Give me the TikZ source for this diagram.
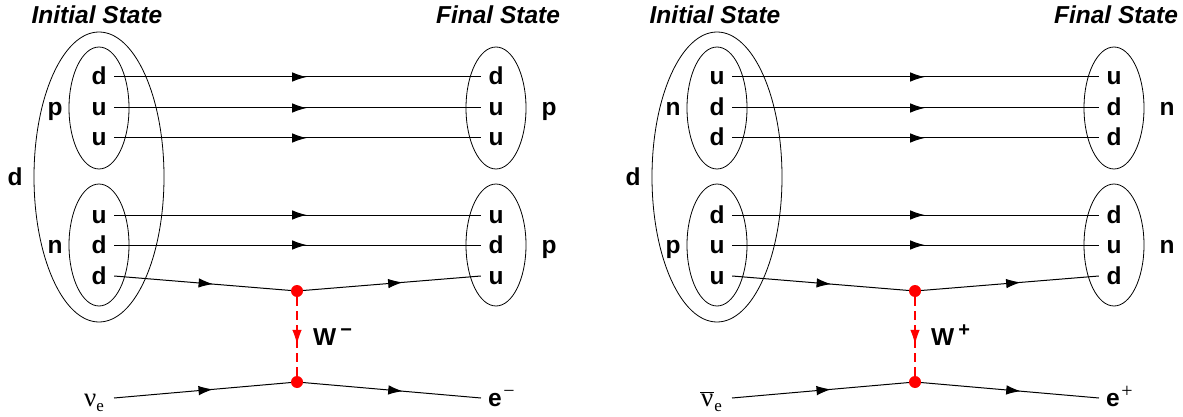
\documentclass[tikz,border=0pt]{standalone}
\usepackage{fontspec}
\setmainfont{Liberation Sans}
\newfontfamily\serifpart{Liberation Serif}
\usetikzlibrary{arrows.meta,decorations.markings,shapes.geometric,positioning}
\newcommand{\nuelectron}{{\serifpart\mdseries\fontsize{27}{27}\selectfont ν\raisebox{-5pt}{\fontsize{17}{17}\selectfont e}}}
\newcommand{\nubar}{{\serifpart\mdseries\fontsize{27}{27}\selectfont$\overline{\hbox{\kern1pt ν\kern1pt}}$\raisebox{-5pt}{\fontsize{17}{17}\selectfont e}}}
\newcommand{\wsup}[1]{W\,\raisebox{9pt}{\fontsize{20}{20}\selectfont #1}}
\newcommand{\esup}[1]{e\kern1.5pt\raisebox{9pt}{\serifpart\mdseries\fontsize{20}{20}\selectfont #1}}
\tikzset{
	particle/.style={inner sep=0pt,minimum width=30pt,text height=16pt,text depth=0pt,font=\fontsize{24.5}{24.5}\selectfont\bfseries},
	state/.style={inner sep=0pt,font=\fontsize{24.5}{24.5}\selectfont\bfseries\itshape},
	nucleon/.style={draw,ellipse,inner sep=0pt,line width=0.8pt,minimum width=60pt,minimum height=122pt},
	vertex/.style={circle,fill=red,inner sep=0pt,minimum size=12pt},
	tipat/.style={postaction={decorate},decoration={markings,mark=at position #1 with {\arrow{Latex[length=14.5pt,width=9.5pt]}}}},
	fermion/.style={line width=1pt,tipat=#1},
	boson/.style={red,line width=1.2pt,dash pattern=on 9pt off 5pt,tipat=0.6}
}
\begin{document}
\begin{tikzpicture}[x=1pt,y=-1pt]
	\useasboundingbox (0,0) rectangle (1183,417);
	\foreach \pre/\ox/\qa/\qb/\qc/\qd/\qe/\qf/\qg/\ha/\hb/\hd/\wlabel/\nulabel/\elabel in {
		L/0/d/u/u/u/d/d/u/p/n/p/{\wsup{−}}/{\nuelectron}/{\esup{−}},
		R/618/u/d/d/d/u/u/d/n/p/n/{\wsup{+}}/{\nubar}/{\esup{+}}}
	{
	\begin{scope}[shift={(\ox,0)},name prefix=\pre-]
		\node[state] (initial) at (97,15) {Initial State};
		\node[state] (final) at (498,15) {Final State};
		% ellipses
		\node[nucleon,minimum width=130pt,minimum height=290pt] (deuteron) at (99,177) {};
		\node[nucleon] (ia) at (99,108) {};
		\node[nucleon] (ib) at (99,245) {};
		\node[nucleon] (fa) at (496,108) {};
		\node[nucleon] (fb) at (496,245) {};
		% hadron labels
		\node[particle] (dlabel) at (15,177) {d};
		\node[particle] (ial) at (55,108) {\ha};
		\node[particle] (ibl) at (55,245) {\hb};
		\node[particle] (fal) at (549,108) {\ha};
		\node[particle] (fbl) at (549,245) {\hd};
		% quarks
		\node[particle] (i1) at (99,77) {\qa};
		\node[particle] (i2) at (99,108) {\qb};
		\node[particle] (i3) at (99,138) {\qc};
		\node[particle] (i4) at (99,215) {\qd};
		\node[particle] (i5) at (99,245) {\qe};
		\node[particle] (i6) at (99,276) {\qf};
		\node[particle] (f1) at (496,77) {\qa};
		\node[particle] (f2) at (496,108) {\qb};
		\node[particle] (f3) at (496,138) {\qc};
		\node[particle] (f4) at (496,215) {\qd};
		\node[particle] (f5) at (496,245) {\qe};
		\node[particle] (f6) at (496,276) {\qg};
		\foreach \n in {1,...,5}
		\draw[fermion=0.525] (i\n.east) -- (f\n.west);
		% vertices
		\node[vertex] (vup) at (297,291) {};
		\node[vertex] (vdown) at (297,382) {};
		\draw[fermion=0.56] (i6.east) -- (vup);
		\draw[fermion=0.56] (vup) -- (f6.west);
		\draw[boson] (vup) -- (vdown);
		\node[particle,minimum width=0pt,anchor=west] (wlabel) at (313,337) {\wlabel};
		% lepton line
		\coordinate (lin) at (114,398);
		\coordinate (lout) at (481,398);
		\node[particle,minimum width=0pt,left=10pt of lin] (nulabel) {\nulabel};
		\node[particle,minimum width=0pt,right=7pt of lout] (elabel) {\elabel};
		\draw[fermion=0.56] (lin) -- (vdown);
		\draw[fermion=0.56] (vdown) -- (lout);
	\end{scope}
	}
\end{tikzpicture}
\end{document}
